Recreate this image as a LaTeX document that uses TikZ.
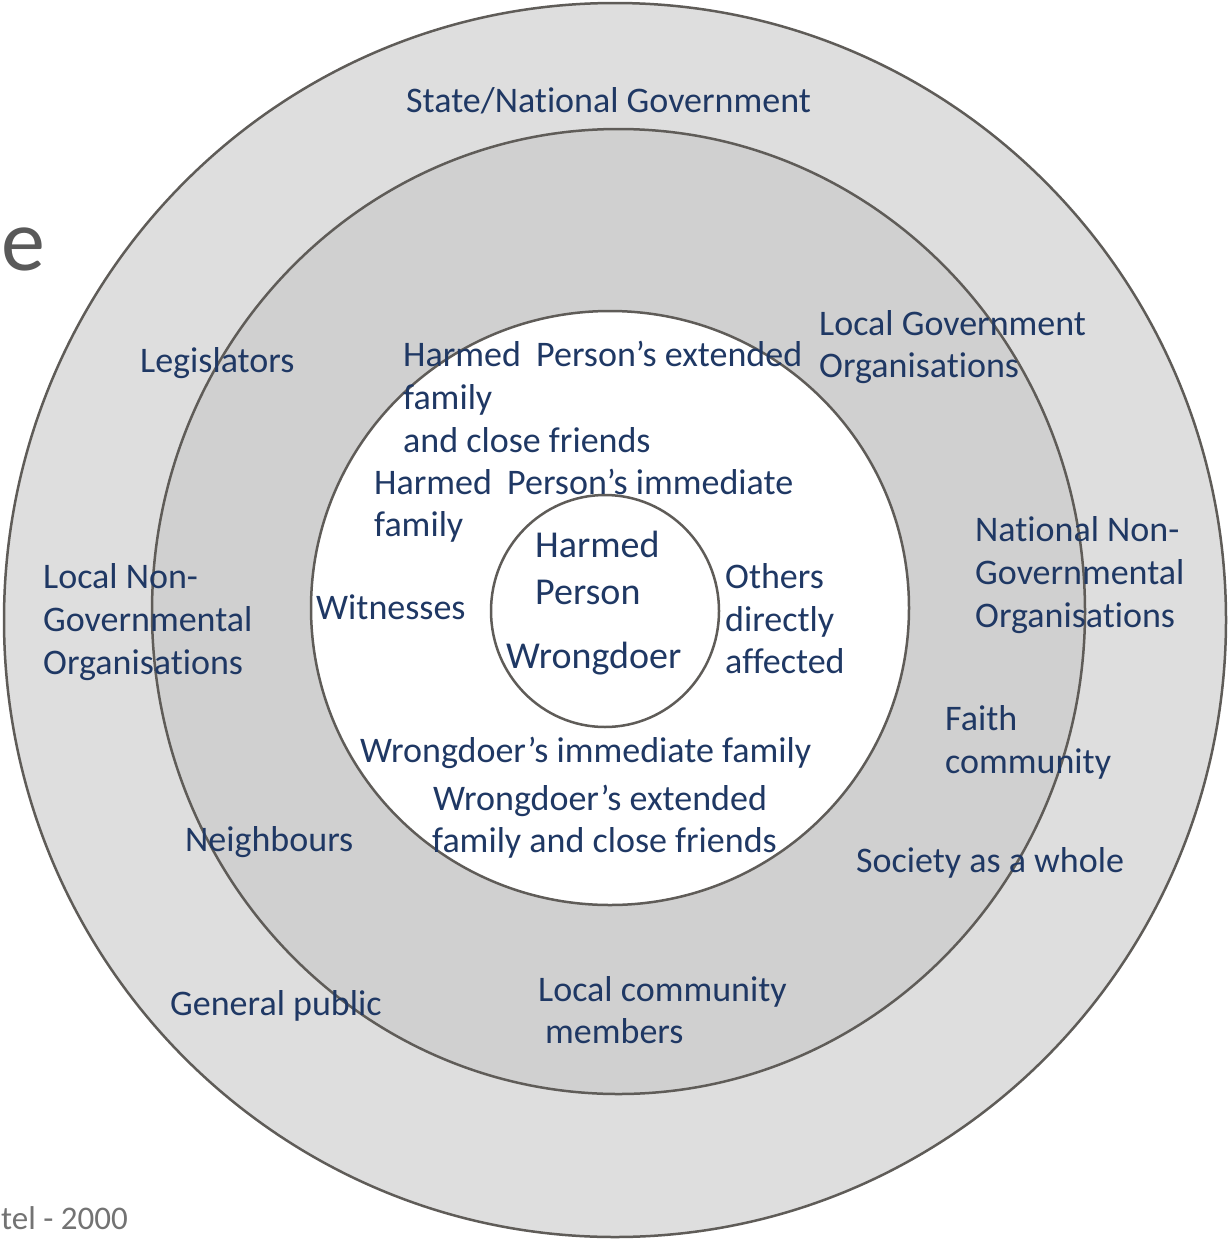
\documentclass[tikz,border=0pt]{standalone}
\usepackage{fontspec}
\setmainfont{Carlito}[Ligatures=NoCommon]
\definecolor{txt}{RGB}{31,56,100}
\definecolor{ringA}{RGB}{222,222,222}
\definecolor{ringB}{RGB}{208,208,208}
\definecolor{edge}{RGB}{95,92,88}
\definecolor{titlegrey}{RGB}{89,89,89}
\definecolor{notegrey}{RGB}{115,115,115}
\begin{document}
\begin{tikzpicture}[x=1pt,y=-1pt,
  lbl/.style={anchor=base west, inner sep=0pt, text=txt, font=\fontsize{36}{43}\selectfont},
  core/.style={lbl, font=\fontsize{38}{47}\selectfont},
  ring/.style={draw=edge, line width=2.5pt}]
\useasboundingbox (0,0) rectangle (1229,1240);
\begin{scope}
\clip (0,0) rectangle (1229,1240);
\fill[white] (0,0) rectangle (1229,1240);
\draw[ring, fill=ringA] (615,620) ellipse [x radius=611, y radius=617];
\draw[ring, fill=ringB] (618.5,611.5) ellipse [x radius=466.5, y radius=482.5];
\draw[ring, fill=white] (610,608) ellipse [x radius=299, y radius=297];
\draw[ring, fill=white] (605,611) ellipse [x radius=114, y radius=116];

\node[anchor=base east, inner sep=0pt, text=titlegrey, font=\fontsize{88}{88}\selectfont] (title) at (45,270) {e};
\node[anchor=base west, inner sep=0pt, text=notegrey, font=\fontsize{33}{38}\selectfont] (cite) at (1,1229) {tel - 2000};

\node[lbl] (state) at (406,112) {State/National Government};
\node[lbl] (legis) at (140,372) {Legislators};
\node[lbl] (hpe1) at (403,366) {Harmed\hspace{7pt} Person’s extended};
\node[lbl] (hpe2) at (403,409) {family};
\node[lbl] (hpe3) at (403,452) {and close friends};
\node[lbl] (hpi1) at (374,494) {Harmed\hspace{7pt} Person’s immediate};
\node[lbl] (hpi2) at (374,536) {family};
\node[lbl] (lgo1) at (819,335) {Local Government};
\node[lbl] (lgo2) at (819,377) {Organisations};
\node[lbl] (nngo1) at (975,541) {National Non-};
\node[lbl] (nngo2) at (975,584) {Governmental};
\node[lbl] (nngo3) at (975,627) {Organisations};
\node[lbl] (lngo1) at (43,588) {Local Non-};
\node[lbl] (lngo2) at (43,631) {Governmental};
\node[lbl] (lngo3) at (43,674) {Organisations};
\node[lbl] (wit) at (316,619) {Witnesses};
\node[core] (hp1) at (535,557) {Harmed};
\node[core] (hp2) at (535,604) {Person};
\node[core] (wd) at (506,668) {Wrongdoer};
\node[lbl] (oda1) at (725,588) {Others};
\node[lbl] (oda2) at (725,631) {directly};
\node[lbl] (oda3) at (725,673) {affected};
\node[lbl] (faith1) at (945,730) {Faith};
\node[lbl] (faith2) at (945,773) {community};
\node[lbl] (wdi) at (360,762) {Wrongdoer’s immediate family};
\node[lbl] (wde1) at (433,810) {Wrongdoer’s extended};
\node[lbl] (wde2) at (432,852) {family and close friends};
\node[lbl] (neigh) at (185,851) {Neighbours};
\node[lbl] (soc) at (856,872) {Society as a whole};
\node[lbl] (gen) at (170,1015) {General public};
\node[lbl] (lcm1) at (538,1001) {Local community};
\node[lbl] (lcm2) at (545,1043) {members};
\end{scope}
\end{tikzpicture}
\end{document}
